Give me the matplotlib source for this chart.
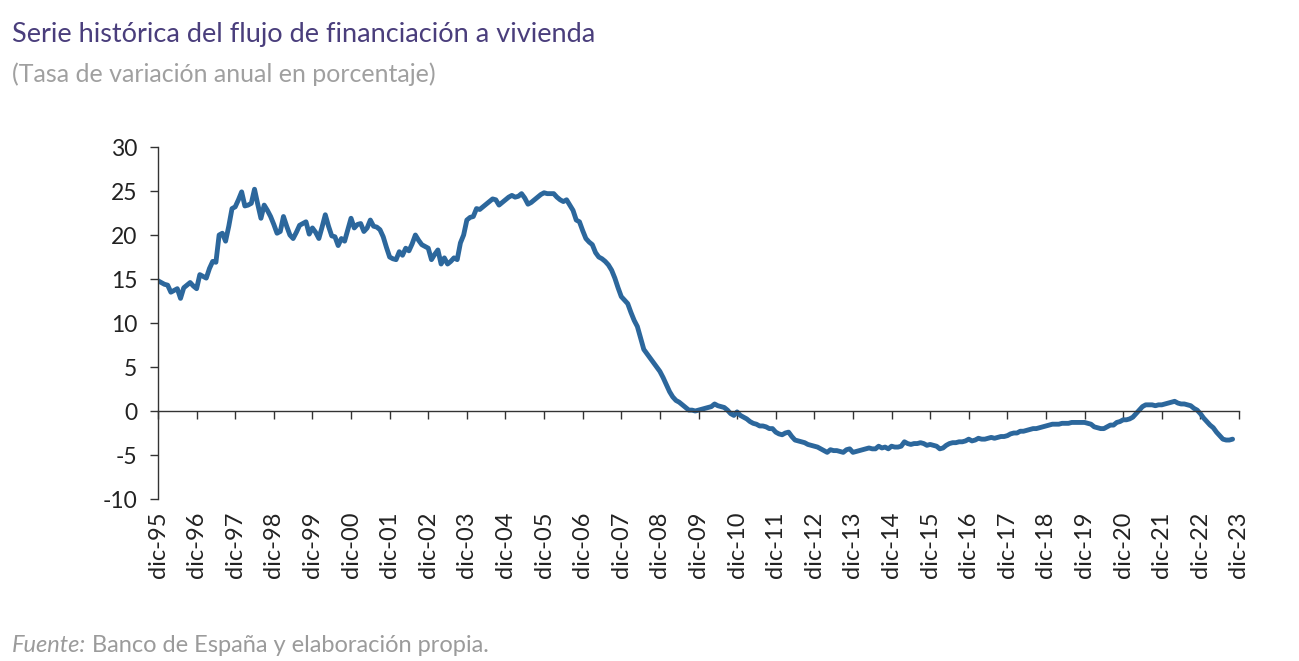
import matplotlib
matplotlib.use("Agg")
import matplotlib.pyplot as plt
import matplotlib.transforms as mtransforms

# Monthly annual growth rate (%), Dec-1995 .. Oct-2023
dec95 = [14.8]
y1996 = [14.6, 14.4, 14.3, 13.5, 13.7, 13.9, 12.8, 14.0, 14.3, 14.6, 14.2, 13.9]
y1997 = [15.5, 15.3, 15.1, 16.2, 17.0, 16.9, 20.0, 20.2, 19.3, 21.0, 23.0, 23.2]
y1998 = [24.0, 24.9, 23.3, 23.4, 23.6, 25.2, 23.5, 21.9, 23.4, 22.8, 22.1, 21.2]
y1999 = [20.2, 20.4, 22.1, 21.0, 20.0, 19.6, 20.3, 21.1, 21.3, 21.5, 20.1, 20.8]
y2000 = [20.3, 19.6, 20.9, 22.3, 21.0, 19.9, 19.8, 18.8, 19.6, 19.3, 20.6, 21.9]
y2001 = [20.8, 21.2, 21.3, 20.4, 20.8, 21.7, 21.0, 20.9, 20.6, 19.8, 18.6, 17.5]
y2002 = [17.3, 17.2, 18.1, 17.7, 18.5, 18.2, 19.0, 20.0, 19.4, 18.9, 18.7, 18.5]
y2003 = [17.2, 17.8, 18.3, 16.7, 17.4, 16.7, 17.0, 17.4, 17.2, 19.1, 20.0, 21.7]
y2004 = [22.0, 22.1, 23.0, 22.9, 23.2, 23.5, 23.8, 24.1, 24.0, 23.4, 23.7, 24.0]
y2005 = [24.3, 24.5, 24.3, 24.4, 24.7, 24.2, 23.5, 23.7, 24.0, 24.3, 24.6, 24.8]
y2006 = [24.7, 24.7, 24.7, 24.3, 24.0, 23.8, 24.0, 23.4, 22.8, 21.7, 21.5, 20.5]
y2007 = [19.6, 19.2, 18.9, 18.0, 17.5, 17.3, 17.0, 16.6, 16.0, 15.1, 14.0, 13.0]
y2008 = [12.6, 12.2, 11.2, 10.3, 9.6, 8.3, 7.0, 6.5, 6.0, 5.5, 5.0, 4.5]
y2009 = [3.8, 3.0, 2.2, 1.6, 1.2, 1.0, 0.7, 0.4, 0.1, 0.1, 0.0, 0.1]
y2010 = [0.2, 0.3, 0.4, 0.5, 0.8, 0.6, 0.5, 0.4, 0.1, -0.3, -0.5, -0.1]
y2011 = [-0.5, -0.7, -0.9, -1.2, -1.4, -1.5, -1.7, -1.7, -1.8, -2.0, -2.0, -2.4]
y2012 = [-2.6, -2.7, -2.5, -2.4, -2.9, -3.3, -3.4, -3.5, -3.6, -3.8, -3.9, -4.0]
y2013 = [-4.1, -4.3, -4.5, -4.7, -4.4, -4.5, -4.5, -4.6, -4.7, -4.4, -4.3, -4.7]
y2014 = [-4.6, -4.5, -4.4, -4.3, -4.2, -4.3, -4.3, -4.0, -4.2, -4.1, -4.3, -4.0]
y2015 = [-4.1, -4.1, -4.0, -3.5, -3.7, -3.8, -3.7, -3.7, -3.6, -3.7, -3.9, -3.8]
y2016 = [-3.9, -4.0, -4.3, -4.2, -3.9, -3.7, -3.6, -3.6, -3.5, -3.5, -3.4, -3.2]
y2017 = [-3.4, -3.3, -3.1, -3.2, -3.2, -3.1, -3.0, -3.1, -3.0, -2.9, -2.9, -2.8]
y2018 = [-2.6, -2.5, -2.5, -2.3, -2.3, -2.2, -2.1, -2.0, -2.0, -1.9, -1.8, -1.7]
y2019 = [-1.6, -1.5, -1.5, -1.5, -1.4, -1.4, -1.4, -1.3, -1.3, -1.3, -1.3, -1.3]
y2020 = [-1.4, -1.5, -1.8, -1.9, -2.0, -2.0, -1.8, -1.6, -1.6, -1.3, -1.2, -1.0]
y2021 = [-1.0, -0.9, -0.7, -0.3, 0.1, 0.5, 0.7, 0.7, 0.7, 0.6, 0.7, 0.7]
y2022 = [0.8, 0.9, 1.0, 1.1, 0.9, 0.8, 0.8, 0.7, 0.6, 0.3, 0.1, -0.3]
y2023 = [-0.8, -1.2, -1.6, -1.9, -2.4, -2.8, -3.2, -3.3, -3.3, -3.2]

series = (dec95 + y1996 + y1997 + y1998 + y1999 + y2000 + y2001 + y2002
          + y2003 + y2004 + y2005 + y2006 + y2007 + y2008 + y2009 + y2010
          + y2011 + y2012 + y2013 + y2014 + y2015 + y2016 + y2017 + y2018
          + y2019 + y2020 + y2021 + y2022 + y2023)
months = list(range(len(series)))

tick_labels = ["dic-%02d" % (y % 100) for y in range(1995, 2024)]
tick_pos = [12 * i for i in range(len(tick_labels))]
y_ticks = [-10, -5, 0, 5, 10, 15, 20, 25, 30]

title = "Serie histórica del flujo de financiación a vivienda"
subtitle = "(Tasa de variación anual en porcentaje)"

FONT = "Lato"
TXT = "#222222"
GREY = "#9b9b9b"

fig = plt.figure(figsize=(12.99, 6.61), dpi=100)
ax = fig.add_axes([158 / 1299, 1 - 499 / 661, (1239 - 158) / 1299, 352 / 661])

ax.plot(months, series, color="#2c679c", linewidth=3.5, solid_capstyle="round",
        solid_joinstyle="round")

ax.set_xlim(0, tick_pos[-1])
ax.set_ylim(-10, 30)
ax.set_yticks(y_ticks)
ax.set_yticklabels([str(v) for v in y_ticks], fontsize=16.5, color=TXT, family=FONT)

for s in ["top", "right"]:
    ax.spines[s].set_visible(False)
ax.spines["left"].set_color("#333333")
ax.spines["left"].set_linewidth(1.0)
ax.spines["bottom"].set_position(("data", 0))
ax.spines["bottom"].set_color("#333333")
ax.spines["bottom"].set_linewidth(1.0)

ax.set_xticks(tick_pos)
ax.tick_params(axis="x", direction="out", length=6, width=1, color="#333333",
               labelbottom=False)
ax.tick_params(axis="y", direction="out", length=6, width=1, color="#333333", pad=9)

# category labels sit below the plot area, rotated
trans = mtransforms.blended_transform_factory(ax.transData, ax.transAxes)
for p, lab in zip(tick_pos, tick_labels):
    ax.text(p, -0.035, lab, transform=trans, rotation=90, ha="center", va="top",
            fontsize=17, color=TXT, family=FONT)

fig.text(12 / 1299, 1 - 42 / 661, title, fontsize=19.5, color="#4a3e7c",
         family=FONT, va="baseline", ha="left")
fig.text(12 / 1299, 1 - 82 / 661, subtitle, fontsize=18, color="#a0a0a0",
         family=FONT, va="baseline", ha="left")

src_a = fig.text(12 / 1299, 1 - 652 / 661, "Fuente:", fontsize=17, color=GREY,
                 family=FONT, style="italic", va="baseline", ha="left")
renderer = fig.canvas.get_renderer()
bb = src_a.get_window_extent(renderer)
fig.text((bb.x1 + 6) / 1299, 1 - 652 / 661, "Banco de España y elaboración propia.",
         fontsize=17, color=GREY, family=FONT, va="baseline", ha="left")

fig.savefig("out.png", dpi=100, facecolor="white")
